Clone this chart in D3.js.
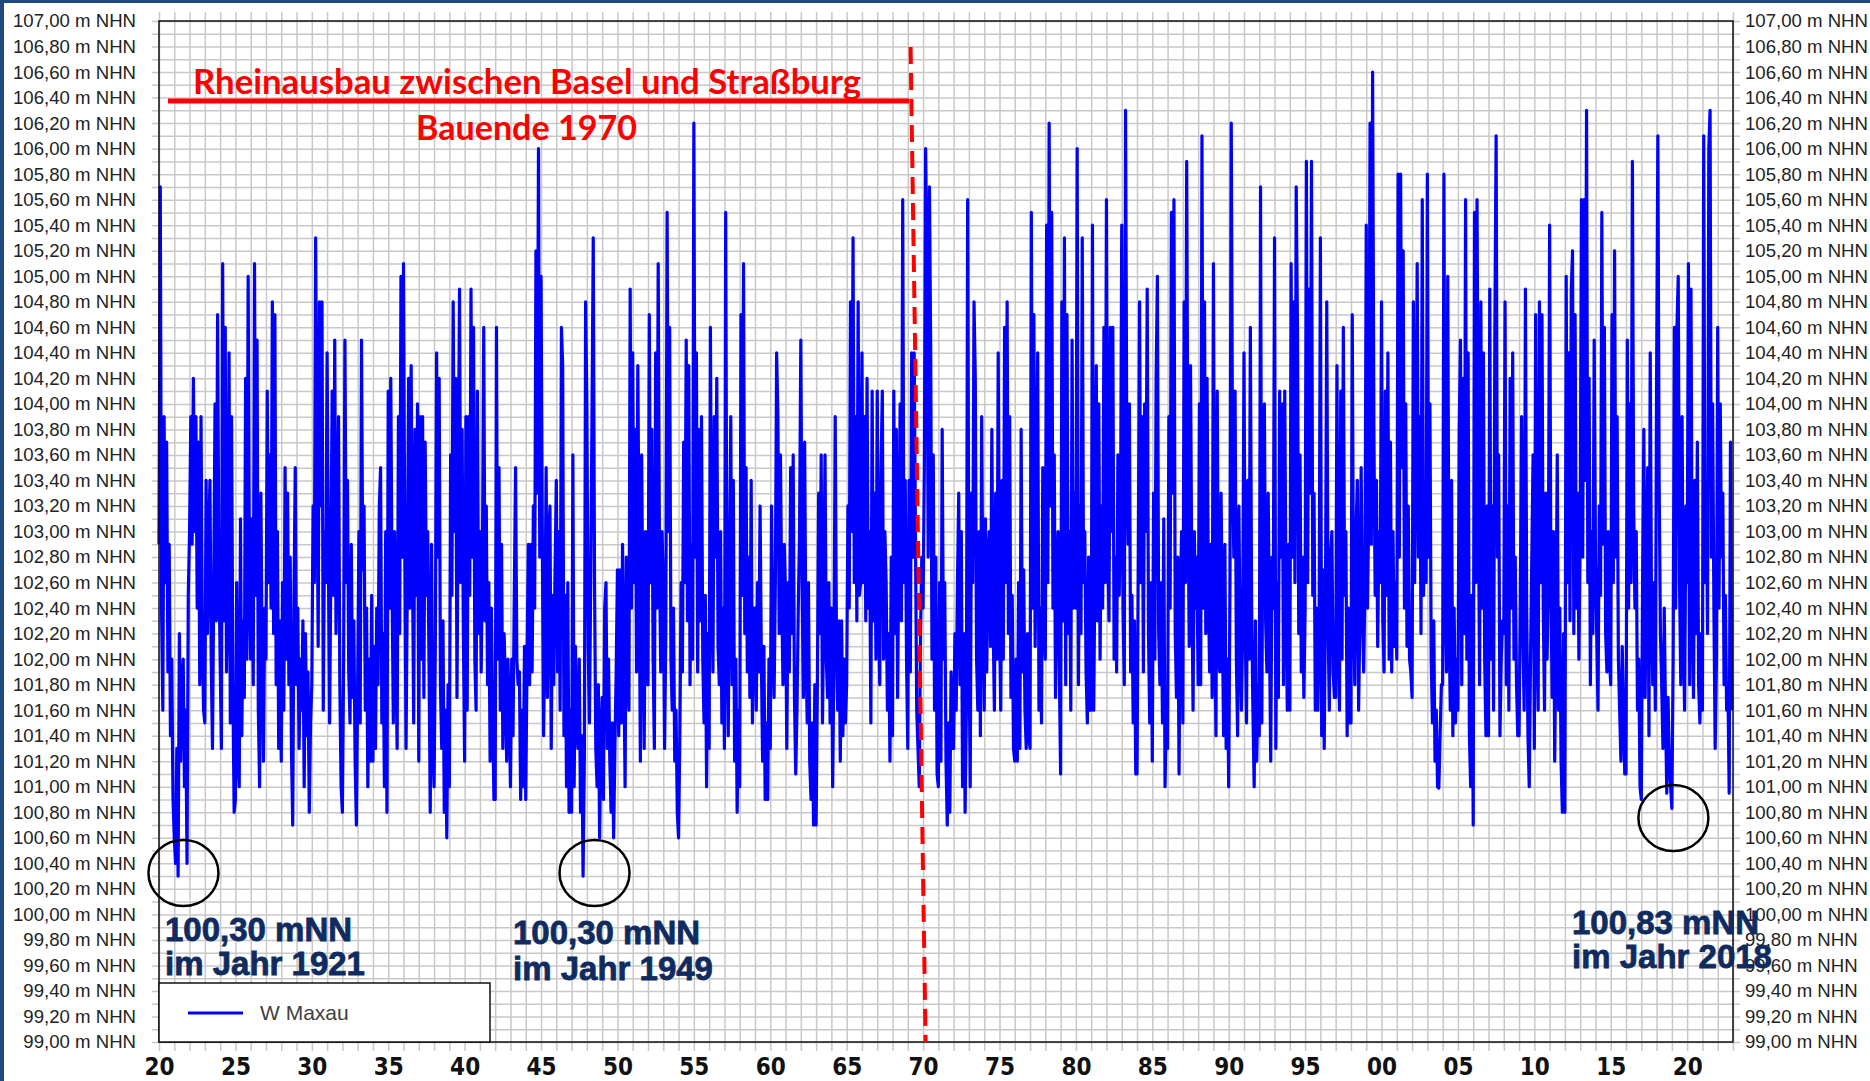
<!DOCTYPE html>
<html><head><meta charset="utf-8">
<script src="https://cdn.jsdelivr.net/npm/d3@7"></script>
<style>
html,body{margin:0;padding:0;background:#fff;}
svg{display:block;}
</style></head><body>
<svg id="chart" width="1870" height="1081"></svg>
<script>
// Water level W Maxau (m NHN), 12 readings per year
const w1920s = [
102.9,105.7,102.4,101.6,103.9,102.6,103.7,101.9,102.9,101.4,102.0,100.9,
100.6,100.4,101.3,100.3,102.2,101.2,101.8,102.0,101.0,101.6,100.4,102.5,
103.0,103.9,102.9,104.2,103.0,103.9,102.4,103.7,101.8,103.9,102.2,101.6,
101.5,103.4,102.2,102.9,103.4,102.0,101.3,102.6,104.0,102.3,104.7,102.8,
102.0,101.3,105.1,102.3,104.6,101.9,102.5,104.4,101.5,103.9,101.8,100.8,
100.9,102.6,101.2,101.0,103.1,101.4,102.3,101.7,104.2,102.0,105.0,102.6,
102.0,103.1,101.8,105.1,102.5,104.5,101.6,101.0,103.3,102.0,101.2,102.4,
102.0,104.1,102.6,103.6,102.4,104.8,102.2,104.7,101.8,103.0,101.3,102.3,
101.2,102.6,101.6,103.5,102.0,103.3,101.8,102.8,101.3,100.7,102.5,103.5,
101.8,102.4,101.3,102.0,101.6,102.3,101.0,102.2,101.4,101.9,100.8,101.5];
const w1930s = [
101.8,103.2,102.6,105.3,103.6,102.1,104.8,103.2,104.8,101.6,103.0,102.6,
104.4,102.8,101.5,102.8,104.1,102.5,104.5,102.2,103.0,103.9,101.8,101.0,
100.8,102.0,104.5,102.6,103.4,101.9,101.5,102.9,101.7,102.3,101.2,100.7,
101.8,103.0,101.5,104.5,102.7,103.2,101.6,102.4,101.0,102.0,101.2,102.5,
101.2,102.1,101.3,102.4,101.8,103.2,103.5,101.5,102.2,101.0,103.0,100.8,
104.1,102.4,104.2,102.6,101.5,103.0,102.0,101.3,103.9,102.2,105.0,102.8,
105.1,102.9,101.3,102.6,104.2,102.4,104.3,102.8,101.5,103.8,102.5,104.0,
101.2,103.9,102.0,103.9,101.7,103.7,102.5,103.0,102.0,100.8,102.9,101.3,
101.0,102.1,104.4,102.8,104.2,101.8,101.3,102.3,100.8,101.6,100.6,101.8,
101.0,103.6,102.5,104.8,103.0,104.2,101.7,103.4,104.9,102.6,103.8,102.2];
const w1940s = [
101.2,103.9,101.6,103.9,102.5,104.9,102.8,104.6,102.0,101.6,104.1,102.2,
103.0,101.9,102.8,104.6,102.3,103.2,101.8,102.6,101.2,102.4,101.6,100.9,
100.9,104.6,102.0,103.5,101.6,102.9,101.3,102.2,101.8,101.2,102.0,101.6,
101.0,102.0,101.4,102.5,103.5,102.0,101.8,101.9,100.9,101.6,101.0,102.1,
100.9,102.0,102.9,101.8,102.9,101.9,103.2,102.4,105.2,103.3,106.0,102.8,
105.0,103.0,101.4,102.2,103.5,101.7,102.9,103.2,101.3,102.5,101.8,102.7,
103.4,101.9,103.0,101.6,104.6,104.3,101.4,102.5,101.0,102.6,100.8,101.6,
100.8,103.6,101.0,102.1,101.5,101.3,102.0,100.8,101.4,100.3,101.2,104.8,
104.0,102.1,101.5,102.6,103.9,105.3,102.6,101.3,101.0,101.8,100.6,101.4,
101.7,100.9,102.4,102.6,101.3,102.0,101.2,100.8,101.5,100.6,101.3,101.9];
const w1950s = [
102.7,101.4,102.7,101.5,102.9,102.0,101.0,102.8,102.2,101.6,104.9,102.4,
104.4,102.6,103.8,101.9,104.3,102.8,101.2,103.6,102.3,101.3,103.0,101.8,
101.8,104.7,102.6,103.8,102.0,101.3,104.4,102.4,105.1,102.8,101.9,103.0,
102.6,101.3,102.2,105.5,103.0,104.6,102.0,101.6,102.4,101.2,101.6,100.8,
100.6,101.4,102.6,101.9,103.7,102.6,104.5,102.3,104.3,101.8,102.9,102.0,
106.2,102.8,104.4,101.9,103.8,102.3,103.9,102.0,101.5,102.5,101.0,102.2,
101.3,104.6,102.5,101.9,103.9,102.8,104.2,102.1,101.8,103.0,101.5,102.4,
101.3,105.5,102.2,101.4,102.8,103.9,101.8,103.4,101.2,102.0,100.8,101.6,
101.0,104.7,102.5,105.1,102.2,103.5,101.9,102.8,101.7,103.4,101.5,102.4,
102.4,101.6,102.6,101.9,103.2,102.0,101.2,102.1,100.9,101.5,100.9,102.0];
const w1960s = [
101.3,103.2,102.2,101.7,102.6,104.4,103.9,102.2,103.6,102.5,101.8,102.9,
102.5,101.3,102.6,101.9,103.5,102.2,103.6,101.7,101.1,101.6,102.4,103.0,
104.5,102.6,101.7,103.7,102.1,101.5,102.6,101.2,100.9,101.5,100.7,101.8,
100.7,101.8,103.3,102.2,103.6,101.5,102.4,103.6,102.0,101.7,102.6,101.5,
102.4,101.0,102.0,103.9,102.1,101.6,102.3,101.2,102.3,101.4,102.0,101.5,
101.8,103.2,102.4,104.8,103.0,105.3,102.6,103.9,102.3,104.8,102.5,102.6,
104.4,102.6,103.9,102.3,104.2,102.4,103.0,101.5,104.1,102.3,103.3,102.0,
104.1,102.4,101.8,103.5,104.1,102.0,103.0,102.6,101.6,102.2,101.2,102.8,
101.4,104.1,102.2,103.8,101.7,102.9,104.0,102.3,105.6,102.6,103.4,102.0,
101.3,103.4,101.9,104.4,102.8,104.4,103.0,101.6,101.3,101.0,102.2,102.8];
const w1970s = [
102.4,103.5,106.0,105.1,102.8,105.7,104.4,102.0,103.6,101.6,102.8,101.1,
101.0,102.6,101.2,103.8,102.0,102.6,101.2,100.7,101.5,100.8,101.9,101.3,
101.3,102.2,101.6,102.6,103.3,101.8,103.0,101.0,102.2,100.8,101.6,105.6,
102.2,101.0,103.3,102.6,104.8,104.2,102.0,101.6,103.0,101.4,103.9,102.4,
101.6,103.1,101.9,102.8,103.0,102.1,103.8,102.3,101.6,103.3,102.0,104.4,
102.3,101.6,103.4,102.0,104.6,102.6,104.8,102.2,103.9,101.7,102.5,101.3,
101.2,102.0,101.2,102.6,101.3,103.8,101.9,102.7,101.6,101.3,102.2,101.4,
101.3,105.5,102.4,104.7,102.1,103.3,104.4,101.6,102.4,101.5,103.5,102.3,
102.0,105.4,102.6,106.2,103.2,105.5,102.4,103.6,101.7,102.6,103.0,101.9,
101.1,104.8,102.3,105.3,101.8,104.7,102.2,103.0,101.6,104.5,102.4,103.3];
const w1980s = [
102.4,106.0,101.8,103.2,102.2,105.3,102.6,103.0,101.9,101.5,102.8,101.6,
101.6,105.4,101.6,102.8,104.3,102.3,104.0,102.0,103.2,102.4,104.6,102.6,
105.6,102.9,102.3,104.6,103.0,104.6,102.0,102.8,101.9,103.6,102.5,103.0,
105.4,102.4,101.8,106.3,103.6,102.9,104.0,101.9,102.5,101.5,102.3,101.1,
101.1,102.8,104.8,102.6,103.9,101.9,104.0,103.0,104.9,102.2,101.5,102.6,
101.2,103.3,102.0,104.2,105.0,102.2,101.8,102.6,101.5,103.1,101.0,101.6,
101.3,103.9,102.4,105.5,103.3,105.6,102.2,101.7,102.8,101.1,102.5,103.0,
101.5,104.8,102.6,105.9,103.3,102.1,104.3,102.7,101.6,103.0,102.4,102.8,
101.8,104.0,101.8,106.1,102.4,104.8,102.2,104.2,102.6,101.9,102.9,101.7,
105.1,102.3,101.4,104.1,102.0,101.9,103.3,102.3,101.4,102.9,101.3,102.0];
const w1990s = [
101.0,102.6,106.2,103.6,102.8,104.1,102.0,101.4,103.2,102.1,101.6,102.3,
104.4,102.2,101.5,103.4,102.0,104.6,102.4,101.6,101.0,102.3,101.2,101.8,
101.4,105.7,101.5,103.6,104.0,102.3,101.9,103.3,102.2,101.2,102.8,102.4,
105.3,101.3,102.6,101.7,104.1,102.8,104.0,101.8,104.1,102.5,101.6,102.9,
101.6,105.1,102.8,104.8,102.6,105.7,104.6,102.2,103.6,101.9,102.8,101.7,
102.4,105.9,102.6,104.9,103.3,105.9,102.5,103.3,101.6,102.4,101.6,102.2,
105.3,101.4,102.7,101.3,102.5,104.8,102.3,101.6,102.8,103.0,101.9,101.7,
101.7,104.3,102.2,101.6,104.1,102.0,104.6,102.5,103.0,101.4,102.4,101.5,
101.5,104.7,102.5,101.8,103.0,103.4,101.6,102.3,103.5,102.4,101.9,102.6,
105.4,102.4,103.2,106.2,102.9,106.6,103.8,102.5,103.4,102.1,103.0,102.6];
const w2000s = [
104.8,102.3,101.9,104.1,102.5,104.4,102.0,103.7,101.9,103.0,102.1,102.6,
102.0,105.8,102.8,105.8,103.5,105.2,102.4,104.0,102.1,103.2,102.0,101.9,
101.7,104.8,102.6,103.6,105.1,102.8,103.9,102.2,105.6,102.5,103.2,102.6,
105.8,102.8,104.0,102.0,101.5,102.3,101.2,101.6,101.0,100.99,101.4,101.8,
101.8,105.8,102.5,101.9,105.0,102.3,101.6,103.4,101.4,102.4,101.5,102.0,
101.6,103.8,104.5,101.8,104.2,102.2,105.6,102.0,104.4,101.4,101.0,102.5,
100.7,105.5,102.6,105.6,103.4,101.8,104.8,102.4,104.4,102.0,101.4,103.2,
101.4,104.9,102.0,103.2,101.6,104.6,106.1,102.8,103.6,101.4,102.0,102.3,
102.2,104.8,101.8,103.2,101.6,104.2,102.4,104.4,102.0,102.8,101.8,101.4,
101.4,102.5,103.9,102.2,101.6,104.9,102.4,101.4,101.0,102.0,102.8,103.6];
const w2010s = [
101.3,104.7,102.2,101.6,104.8,102.6,104.7,102.4,101.6,103.3,102.0,102.6,
105.4,102.6,101.7,103.0,101.2,102.2,103.6,101.6,102.4,101.2,100.8,102.2,
100.8,105.0,102.6,104.4,102.3,104.9,105.2,102.2,104.7,102.4,103.3,102.0,
103.0,105.6,102.8,105.6,103.4,106.3,102.6,104.2,101.8,103.0,102.2,104.5,
102.8,102.2,101.6,103.2,102.5,105.5,102.9,104.6,102.2,101.9,103.0,102.0,
101.8,104.7,102.6,105.2,102.8,103.9,102.0,101.6,101.2,102.1,101.6,101.1,
101.1,104.5,102.4,104.0,102.6,105.9,103.2,102.4,103.0,101.6,102.0,101.0,
100.9,102.6,103.8,101.7,102.8,103.5,101.4,104.4,102.4,101.8,102.6,101.6,
104.2,106.1,103.4,102.2,101.8,101.3,102.4,101.6,100.95,101.7,101.2,101.0,
100.83,102.0,104.6,102.4,104.6,105.0,102.6,101.8,103.9,102.2,101.6,103.2];
const w2020s = [
102.6,105.1,101.8,104.9,102.4,101.7,103.4,102.2,103.7,101.8,101.5,102.2,
101.6,106.1,102.6,103.4,102.2,106.0,106.3,102.8,104.0,102.4,101.3,102.0,
104.6,102.4,104.0,102.8,103.3,101.8,102.5,101.6,101.8,100.95,103.7,101.6];
const decadeStarts = [1920,1930,1940,1950,1960,1970,1980,1990,2000,2010,2020];
const decadeSeries = [w1920s,w1930s,w1940s,w1950s,w1960s,w1970s,w1980s,w1990s,w2000s,w2010s,w2020s];
const readingsPerYear = 12;

const xTickYears = [1920,1925,1930,1935,1940,1945,1950,1955,1960,1965,1970,1975,1980,1985,1990,1995,2000,2005,2010,2015,2020];
const xTickLabels = ["20","25","30","35","40","45","50","55","60","65","70","75","80","85","90","95","00","05","10","15","20"];
const yTicks = [99.0,99.2,99.4,99.6,99.8,100.0,100.2,100.4,100.6,100.8,101.0,101.2,101.4,101.6,101.8,102.0,102.2,102.4,102.6,102.8,103.0,103.2,103.4,103.6,103.8,104.0,104.2,104.4,104.6,104.8,105.0,105.2,105.4,105.6,105.8,106.0,106.2,106.4,106.6,106.8,107.0];
const seriesName = "W Maxau";
const titleLines = ["Rheinausbau zwischen Basel und Straßburg", "Bauende 1970"];
const markerYear = 1970;
const lowNotes = [
  {year: 1921.6, value: 100.30, lines: ["100,30 mNN", "im Jahr 1921"]},
  {year: 1948.5, value: 100.30, lines: ["100,30 mNN", "im Jahr 1949"]},
  {year: 2019.1, value: 100.83, lines: ["100,83 mNN", "im Jahr 2018"]}
];

// build data
const data = [];
decadeSeries.forEach((arr, k) => {
  arr.forEach((v, i) => data.push({t: decadeStarts[k] + i / readingsPerYear, v: v}));
});

const svg = d3.select("#chart");
const L = 159, R = 1733, T = 21, B = 1042;
const x = d3.scaleLinear().domain([1920, 2023]).range([L, R]);
const y = d3.scaleLinear().domain([99, 107]).range([B, T]);

// frame
svg.append("rect").attr("x",0).attr("y",0).attr("width",1870).attr("height",1081).attr("fill","#fff");
svg.append("rect").attr("x",0).attr("y",0).attr("width",1870).attr("height",3).attr("fill","#21497d");
svg.append("rect").attr("x",0).attr("y",0).attr("width",4).attr("height",1081).attr("fill","#21497d");

// grid
const gx = svg.append("g").attr("transform", `translate(0,${B + 9})`)
  .call(d3.axisBottom(x).tickValues(d3.range(1920, 2024)).tickSize(-(B + 9 - 12)).tickFormat(""));
gx.select(".domain").remove();
gx.selectAll("line").attr("stroke", "#c8c8c8").attr("stroke-width", 1.5);
const gy = svg.append("g").attr("transform", `translate(${L - 7},0)`)
  .call(d3.axisLeft(y).tickValues(d3.range(0, 81).map(i => 99 + i / 10)).tickSize(-(R + 7 - (L - 7))).tickFormat(""));
gy.select(".domain").remove();
gy.selectAll("line").attr("stroke", "#c8c8c8").attr("stroke-width", 1.5);

// series
const line = d3.line().x(d => x(d.t)).y(d => y(d.v));
svg.append("path").datum(data).attr("d", line)
  .attr("fill", "none").attr("stroke", "#0000ff").attr("stroke-width", 3.2)
  .attr("stroke-linejoin", "round");

// plot border
svg.append("rect").attr("x", L).attr("y", T).attr("width", R - L).attr("height", B - T)
  .attr("fill", "none").attr("stroke", "#111").attr("stroke-width", 1.5);

// y labels
const fmtY = v => d3.format(".2f")(v).replace(".", ",") + " m NHN";
const yl = svg.append("g").attr("transform", "translate(136,0)")
  .call(d3.axisLeft(y).tickValues(yTicks).tickSize(0).tickPadding(0).tickFormat(fmtY));
const yr = svg.append("g").attr("transform", "translate(1745,0)")
  .call(d3.axisRight(y).tickValues(yTicks).tickSize(0).tickPadding(0).tickFormat(fmtY));
[yl, yr].forEach(g => {
  g.select(".domain").remove();
  g.selectAll("text").attr("font-family", "'Liberation Sans', Arial, sans-serif")
    .attr("font-size", 18.6).attr("fill", "#222");
});

// x labels
const xl = svg.append("g").attr("transform", `translate(0,${B + 16})`)
  .call(d3.axisBottom(x).tickValues(xTickYears).tickSize(0).tickPadding(0)
    .tickFormat((d, i) => xTickLabels[i]));
xl.select(".domain").remove();
xl.selectAll("text").attr("font-family", "'Liberation Sans Narrow', 'Arial Narrow', 'DejaVu Sans Condensed', sans-serif")
  .attr("font-weight", "bold").attr("font-size", 24).attr("fill", "#111");

// legend
svg.append("rect").attr("x", L).attr("y", 983).attr("width", 331).attr("height", B - 983)
  .attr("fill", "#fff").attr("stroke", "#111").attr("stroke-width", 1.5);
svg.append("line").attr("x1", 188).attr("x2", 243).attr("y1", 1013).attr("y2", 1013)
  .attr("stroke", "#0000ff").attr("stroke-width", 3);
svg.append("text").attr("x", 260).attr("y", 1013).attr("dy", "0.35em").text(seriesName)
  .attr("font-family", "'Liberation Sans', Arial, sans-serif").attr("font-size", 21).attr("fill", "#404040");

// red annotation
svg.append("line").attr("x1", 168).attr("x2", 909).attr("y1", 101).attr("y2", 101)
  .attr("stroke", "#ff0000").attr("stroke-width", 5);
svg.append("text").attr("x", 193).attr("y", 94).text(titleLines[0])
  .attr("font-family", "Lato, 'Open Sans', sans-serif").attr("font-weight", "bold")
  .attr("font-size", 34).attr("fill", "#ff0000")
  .attr("textLength", 668).attr("lengthAdjust", "spacingAndGlyphs");
svg.append("text").attr("x", 416).attr("y", 140).text(titleLines[1])
  .attr("font-family", "Lato, 'Open Sans', sans-serif").attr("font-weight", "bold")
  .attr("font-size", 34).attr("fill", "#ff0000")
  .attr("textLength", 221).attr("lengthAdjust", "spacingAndGlyphs");
svg.append("line").attr("x1", x(markerYear) - 12.5).attr("y1", 47)
  .attr("x2", x(markerYear) + 2.5).attr("y2", B)
  .attr("stroke", "#ff0000").attr("stroke-width", 4).attr("stroke-dasharray", "17,9");

// low-water notes
const notePos = [[165, 941, 975, 873], [513, 944, 980, 873], [1572, 934, 968, 818]];
lowNotes.forEach((n, i) => {
  const [tx, b1, b2, cy] = notePos[i];
  svg.append("ellipse").attr("cx", x(n.year)).attr("cy", cy)
    .attr("rx", 35).attr("ry", 33).attr("fill", "none").attr("stroke", "#000").attr("stroke-width", 2.5);
  [b1, b2].forEach((by, j) => {
    svg.append("text").attr("x", tx).attr("y", by).text(n.lines[j])
      .attr("font-family", "'Liberation Sans', Arial, sans-serif").attr("font-weight", "bold")
      .attr("font-size", 33).attr("fill", "#0f2b5f")
      .attr("stroke", "#0f2b5f").attr("stroke-width", 0.8);
  });
});
</script>
</body></html>
